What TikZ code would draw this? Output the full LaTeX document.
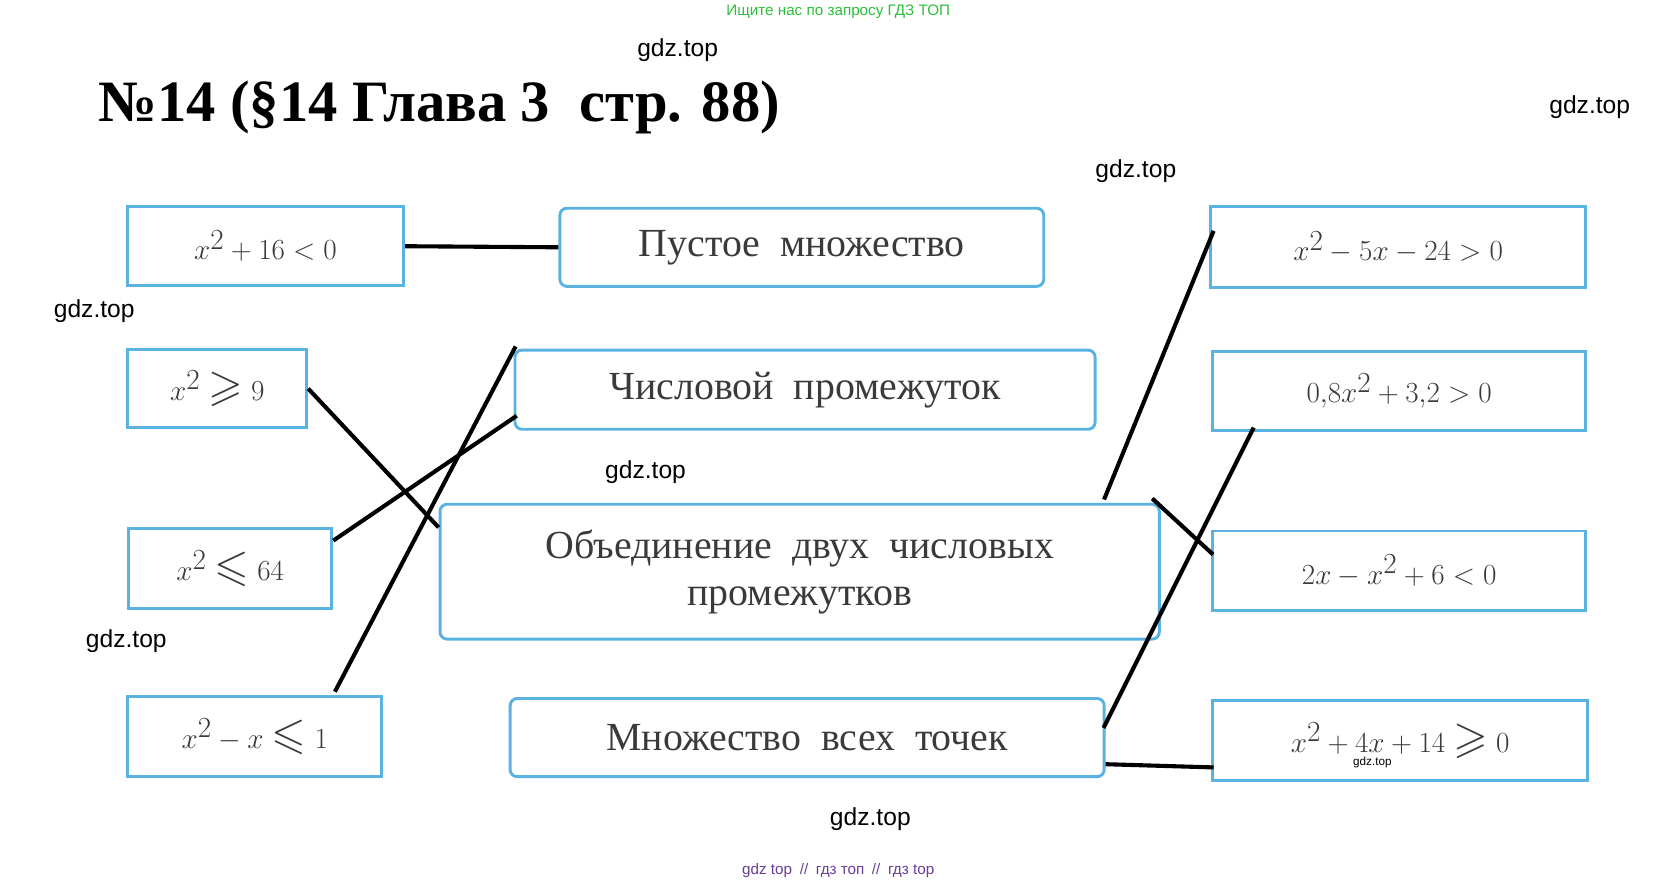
\documentclass[tikz,border=0pt]{standalone}
\usepackage{amsmath, amssymb}
\usepackage{fontspec}
\setmainfont{Liberation Serif}
\newfontfamily\wmfont{Liberation Sans}
\usetikzlibrary{calc}
\definecolor{boxblue}{HTML}{5AB2E2}
\definecolor{inkgray}{HTML}{3A3A3A}
\definecolor{wmgreen}{HTML}{2DBE3C}
\definecolor{wmpurple}{HTML}{6A3D9A}

\begin{document}
\begin{tikzpicture}[x=0.0321cm, y=-0.0321cm,
        eqbox/.style 2 args={draw=boxblue, line width=2.5pt, text=inkgray, inner sep=0pt,
            minimum width=#1*0.9133pt, minimum height=#2*0.9133pt,
            font=\fontsize{38}{42}\selectfont},
        setbox/.style 2 args={eqbox={#1}{#2}, rounded corners=6pt, align=center,
            font=\fontsize{34}{40}\selectfont},
        link/.style={line width=3.5pt, black},
        wm/.style={font=\wmfont\fontsize{21}{24}\selectfont}]
        \useasboundingbox (0,0) rectangle (1560,823);

        % header and title
        \node[wm, text=wmgreen, font=\wmfont\fontsize{13}{15}\selectfont] (hdr) at (783,11) {Ищите нас по запросу ГДЗ ТОП};
        \node[anchor=west, font=\bfseries\fontsize{50}{58}\selectfont] (title) at (88,100) {№14 (§14 Глава 3\enspace стр. 88)};

        % left column
        \node[eqbox={258}{74}] (a1) at (248,230) {$x^2+16<0$};
        \node[eqbox={167}{73}] (a2) at (203,363) {$x^2\geqslant 9$};
        \node[eqbox={190}{74}] (a3) at (215,531) {$x^2\leqslant 64$};
        \node[eqbox={237}{75}] (a4) at (238,688) {$x^2-x\leqslant 1$};

        % middle column
        \node[setbox={452}{73}] (m1) at (749,231) {Пустое\enspace множество};
        \node[setbox={542}{74}] (m2) at (752,364) {Числовой\enspace промежуток};
        \node[setbox={672}{126}] (m3) at (747,534) {Объединение\enspace двух\enspace числовых\\промежутков};
        \node[setbox={555}{73}] (m4) at (754,689) {Множество\enspace всех\enspace точек};

        % right column
        \node[eqbox={350}{76}] (r1) at (1306,231) {$x^2-5x-24>0$};
        \node[eqbox={349}{74}] (r2) at (1307,365) {$0{,}8x^2+3{,}2>0$};
        \node[eqbox={349}{74}] (r3) at (1307,533) {$2x-x^2+6<0$};
        \node[eqbox={350}{75}] (r4) at (1308,692) {$x^2+4x+14\geqslant 0$};

        % answers
        \draw[link] (a1.east) -- (m1.west);
        \draw[link] (a2.east) -- ($(m3.north west)+(0,23)$);
        \draw[link] ($(a3.east)+(0,-26)$) -- ($(m2.south west)+(3,-14)$);
        \draw[link] ($(a4.north east)+(-45,-3)$) -- ($(m2.north west)+(2,-2)$);
        \draw[link] ($(r1.north west)+(4,24)$) -- ($(m3.north east)+(-53,-3)$);
        \draw[link] ($(r2.south west)+(40,-4)$) -- ($(m4.east)+(-2,-9)$);
        \draw[link] ($(r3.west)+(2,-15)$) -- ($(m3.north east)+(-8,-4)$);
        \draw[link] ($(r4.south west)+(2,-14)$) -- ($(m4.south east)+(0,-13)$);

        % watermarks
        \node[wm] (w1) at (633,47) {gdz.top};
        \node[wm] (w2) at (1485,100) {gdz.top};
        \node[wm] (w3) at (1061,160) {gdz.top};
        \node[wm] (w4) at (88,291) {gdz.top};
        \node[wm] (w5) at (603,441) {gdz.top};
        \node[wm] (w6) at (118,599) {gdz.top};
        \node[wm] (w7) at (813,765) {gdz.top};
        \node[wm, font=\wmfont\fontsize{10}{12}\selectfont] (w8) at (1282,712) {gdz.top};
        \node[wm, text=wmpurple, font=\wmfont\fontsize{13}{15}\selectfont] (ftr) at (783,813) {gdz top\enspace//\enspace гдз топ\enspace//\enspace гдз top};
    \end{tikzpicture}
\end{document}
